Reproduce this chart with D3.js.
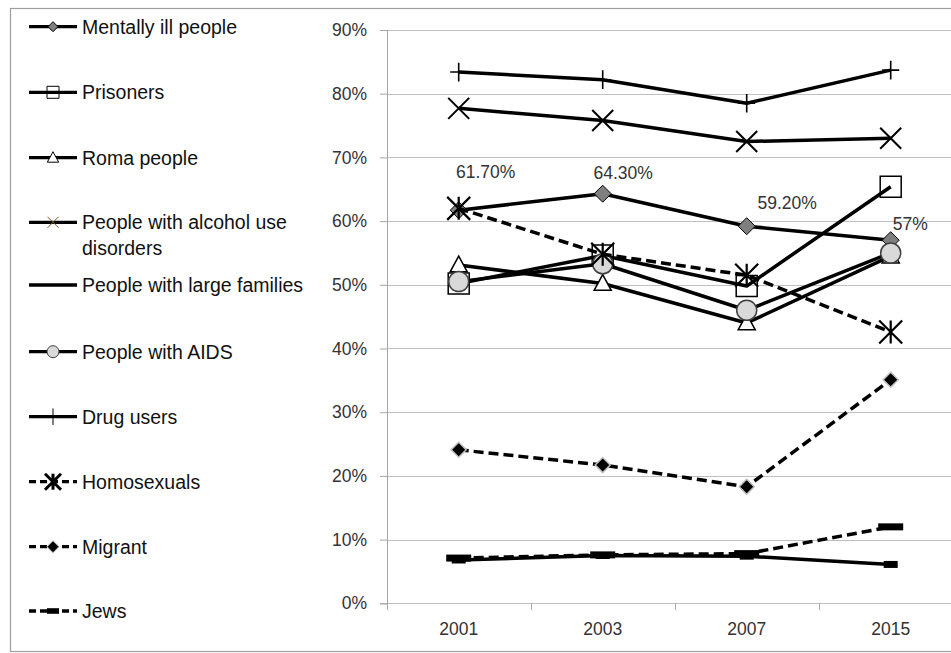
<!DOCTYPE html>
<html><head><meta charset="utf-8">
<script src="https://cdn.jsdelivr.net/npm/d3@7"></script>
<style>body{margin:0;background:#fff}svg{display:block}text{font-family:"Liberation Sans",Arial,sans-serif}</style>
</head><body><svg id="c" width="951" height="653"></svg>
<script>
// ---------- data ----------
const years = ["2001", "2003", "2007", "2015"];
const yTicks = [0, 0.1, 0.2, 0.3, 0.4, 0.5, 0.6, 0.7, 0.8, 0.9];
const seriesNames = ["Mentally ill people", "Prisoners", "Roma people", "People with alcohol use disorders",
  "People with large families", "People with AIDS", "Drug users", "Homosexuals", "Migrant", "Jews"];
const mentallyIll   = [0.617, 0.643, 0.592, 0.570];
const prisoners     = [0.502, 0.546, 0.498, 0.654];
const roma          = [0.531, 0.502, 0.440, 0.545];
const alcohol       = [0.777, 0.758, 0.725, 0.730];
const largeFamilies = [0.068, 0.075, 0.074, 0.061];
const aids          = [0.505, 0.533, 0.460, 0.550];
const drugUsers     = [0.834, 0.822, 0.785, 0.837];
const homosexuals   = [0.620, 0.548, 0.515, 0.426];
const migrant       = [0.241, 0.217, 0.183, 0.351];
const jews          = [0.071, 0.076, 0.078, 0.120];
const mentallyIllLabels = ["61.70%", "64.30%", "59.20%", "57%"];

// ---------- styles / layout ----------
const allValues = [mentallyIll, prisoners, roma, alcohol, largeFamilies, aids, drugUsers, homosexuals, migrant, jews];
const styles = [
  {dash: null, marker: "diamond", size: 8.5, fill: "#7f7f7f", stroke: "#000", sw: 1, lsize: 5},
  {dash: null, marker: "square", size: 10.5, fill: "none", stroke: "#000", sw: 1.5, lsize: 6},
  {dash: null, marker: "triangle", size: 9, fill: "#fff", stroke: "#000", sw: 1.5, lsize: 6},
  {dash: null, marker: "x", size: 10.5, fill: "none", stroke: "#000", sw: 2, lsize: 5.5, lstroke: "#7a5a2a", lsw: 1},
  {dash: null, marker: "dash", size: 7, fill: "#000", stroke: "none", sw: 0, lsize: 0},
  {dash: null, marker: "circle", size: 10, fill: "#d9d9d9", stroke: "#404040", sw: 1.5, lsize: 6},
  {dash: null, marker: "plus", size: 8.5, fill: "none", stroke: "#000", sw: 1.6, lsize: 7.5, lsw: 1},
  {dash: "10,5", marker: "asterisk", size: 11.5, fill: "none", stroke: "#000", sw: 2.2, lsize: 8, lsw: 3},
  {dash: "10,5", marker: "diamond", size: 7.5, fill: "#000", stroke: "#bdbdbd", sw: 1.5, lsize: 6},
  {dash: "10,5", marker: "dash", size: 12.5, fill: "#000", stroke: "none", sw: 0, lsize: 6}
];
const legendY = [26.7, 92.3, 157.7, 222.3, 285, 351.7, 416.7, 481.7, 546.7, 611];
const labelOffsets = [[27, -38], [20.5, -20.5], [40.5, -23], [19.5, -16]];

function shape(type, s) {
  switch (type) {
    case "diamond": return `M0,${-s}L${s},0L0,${s}L${-s},0Z`;
    case "square": return `M${-s},${-s}H${s}V${s}H${-s}Z`;
    case "triangle": return `M0,${-s}L${s * 0.95},${s * 0.75}L${-s * 0.95},${s * 0.75}Z`;
    case "circle": return `M${s},0A${s},${s} 0 1,1 ${-s},0A${s},${s} 0 1,1 ${s},0Z`;
    case "x": return `M${-s},${-s}L${s},${s}M${-s},${s}L${s},${-s}`;
    case "plus": return `M${-s},0H${s}M0,${-s * 1.1}V${s * 1.1}`;
    case "asterisk": return `M${-s},${-s}L${s},${s}M${-s},${s}L${s},${-s}M0,${-s}V${s}`;
    case "dash": return `M${-s},-3.5H${s}V3.5H${-s}Z`;
  }
}

// ---------- chart ----------
const svg = d3.select("#c");
svg.append("rect").attr("width", 951).attr("height", 653).attr("fill", "#fff");
svg.append("rect").attr("x", 10.5).attr("y", 8.5).attr("width", 980).attr("height", 643)
  .attr("fill", "none").attr("stroke", "#9f9f9f").attr("stroke-width", 1.2);

const x = d3.scaleBand().domain(years).range([386.7, 962.7]);
const cx = d => x(d) + x.bandwidth() / 2;
const y = d3.scaleLinear().domain([0, 0.9]).range([603.3, 30]);

// gridlines
svg.append("g").selectAll("line").data(yTicks).join("line")
  .attr("x1", 387).attr("x2", 951)
  .attr("y1", d => Math.round(y(d)) + 0.5).attr("y2", d => Math.round(y(d)) + 0.5)
  .attr("stroke", "#bfbfbf").attr("stroke-width", 1);

// y axis
const yAxis = svg.append("g").attr("transform", "translate(387,0)")
  .call(d3.axisLeft(y).tickValues(yTicks).tickFormat(d3.format(".0%")).tickSize(7).tickPadding(13));
yAxis.select(".domain").attr("stroke", "#a6a6a6");
yAxis.selectAll(".tick line").attr("stroke", "#a6a6a6");
yAxis.selectAll("text").attr("font-size", 17.5).attr("fill", "#333").attr("font-family", '"Liberation Sans",Arial,sans-serif');

// x axis
const xAxis = svg.append("g").attr("transform", "translate(0,603.3)")
  .call(d3.axisBottom(x).tickSize(0).tickPadding(19));
xAxis.select(".domain").remove();
xAxis.selectAll("text").attr("font-size", 17.5).attr("fill", "#333").attr("font-family", '"Liberation Sans",Arial,sans-serif');
svg.append("g").selectAll("line").data(years).join("line")
  .attr("x1", d => Math.round(x(d)) + 0.5).attr("x2", d => Math.round(x(d)) + 0.5)
  .attr("y1", 603.5).attr("y2", 610).attr("stroke", "#a6a6a6");

// series
const line = d3.line().x((d, i) => cx(years[i])).y(d => y(d));
const gS = svg.append("g");
allValues.forEach((vals, k) => {
  const st = styles[k];
  gS.append("path").attr("d", line(vals)).attr("fill", "none").attr("stroke", "#000")
    .attr("stroke-width", 3.5).attr("stroke-linejoin", "round")
    .attr("stroke-dasharray", st.dash);
  gS.append("g").selectAll("path").data(vals).join("path")
    .attr("transform", (d, i) => `translate(${cx(years[i])},${y(d)})`)
    .attr("d", shape(st.marker, st.size))
    .attr("fill", st.fill).attr("stroke", st.stroke).attr("stroke-width", st.sw);
});

// data labels
svg.append("g").selectAll("text").data(mentallyIll).join("text")
  .attr("x", (d, i) => cx(years[i]) + labelOffsets[i][0])
  .attr("y", (d, i) => y(d) + labelOffsets[i][1])
  .attr("text-anchor", "middle").attr("dominant-baseline", "central")
  .attr("font-size", 17.5).attr("fill", "#333")
  .text((d, i) => mentallyIllLabels[i]);

// legend
const gL = svg.append("g");
seriesNames.forEach((name, k) => {
  const st = styles[k];
  const ly = legendY[k];
  gL.append("line").attr("x1", 29).attr("x2", 77).attr("y1", ly).attr("y2", ly)
    .attr("stroke", "#000").attr("stroke-width", 3.3)
    .attr("stroke-dasharray", st.dash ? "7,4" : null)
    .attr("stroke-dashoffset", st.dash ? 0 : null);
  if (st.lsize > 0) {
    gL.append("path").attr("transform", `translate(53,${ly})`)
      .attr("d", st.marker === "dash" ? `M${-st.lsize},-2.8H${st.lsize}V2.8H${-st.lsize}Z` : shape(st.marker, st.lsize))
      .attr("fill", st.fill === "none" ? "none" : (st.marker === "circle" ? "#d9d9d9" : st.fill))
      .attr("stroke", st.lstroke || st.stroke).attr("stroke-width", st.lsw || 1);
  }
  const t = gL.append("text").attr("x", 82).attr("y", ly).attr("dominant-baseline", "central")
    .attr("font-size", 19.5).attr("fill", "#111");
  if (name === "People with alcohol use disorders") {
    t.append("tspan").attr("x", 82).attr("y", ly).text("People with alcohol use");
    t.append("tspan").attr("x", 82).attr("y", ly + 25.4).text("disorders");
  } else {
    t.text(name);
  }
});
</script>
</body></html>
